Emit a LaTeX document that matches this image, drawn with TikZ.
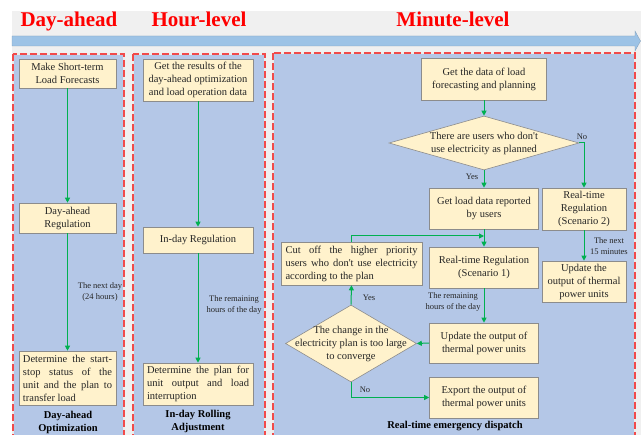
\documentclass[tikz,border=0pt]{standalone}
\usepackage{fontspec}
\setmainfont{Liberation Serif}
\usetikzlibrary{shapes.geometric,arrows.meta}

\definecolor{pagegray}{HTML}{F0F0F0}
\definecolor{barblue}{HTML}{9DC3E6}
\definecolor{panelblue}{HTML}{B4C7E7}
\definecolor{boxyellow}{HTML}{FFF2CC}
\definecolor{boxline}{HTML}{8C8C8C}
\definecolor{flowgreen}{HTML}{00B050}
\definecolor{dashred}{HTML}{F24A4A}
\definecolor{inkgray}{HTML}{262626}

% one fully justified line of a paragraph
\newcommand{\jrow}[2]{\makebox[#1][s]{#2}}
% straight apostrophe
\newcommand{\apos}{\textquotesingle}

\tikzset{
  boxtext/.style={font=\fontsize{10.5}{13}\selectfont, text=inkgray},
  stepbox/.style={boxtext, draw=boxline, line width=0.6pt, fill=boxyellow,
    inner sep=0pt, align=center},
  decision/.style={boxtext, shape=diamond, draw=boxline, line width=0.6pt,
    fill=boxyellow, inner sep=-15pt, align=center},
  flow/.style={draw=flowgreen, line width=1pt,
    -{Triangle[length=5pt,width=5pt]}},
  note/.style={font=\fontsize{8.5}{11}\selectfont, text=inkgray, inner sep=0pt,
    align=center},
  caption/.style={font=\fontsize{10.5}{13}\selectfont\bfseries, text=black,
    inner sep=0pt, align=center},
  stage/.style={font=\fontsize{21}{24}\selectfont\bfseries, text=red,
    inner sep=0pt, anchor=base},
  panel/.style={fill=panelblue, draw=white!85!gray, line width=1.2pt},
  panelrim/.style={draw=dashred, line width=1.2pt, dash pattern=on 7pt off 3pt}
}

\begin{document}
\begin{tikzpicture}[x=1pt,y=-1pt]
\useasboundingbox (0,0) rectangle (641,435);
\clip (0,0) rectangle (641,435);

% page background and time axis
\fill[pagegray] (12,11) rectangle (641,435);
\filldraw[fill=barblue, draw=barblue!80!black, line width=0.3pt]
  (12,36) -- (635,36) -- (635,31) -- (640.5,41) -- (635,51) -- (635,46)
  -- (12,46) -- cycle;

\node[stage] (tday) at (69,27) {Day-ahead};
\node[stage] (thour) at (199,27) {Hour-level};
\node[stage] (tmin) at (453,27) {Minute-level};

% dashed stage panels
\foreach \xa/\xb/\ya in {13/124/54, 133/265/54, 273/635/53}{
  \path[panel] (\xa,\ya) rectangle (\xb,445);
  \path[panelrim] (\xa,\ya) rectangle (\xb,445);
}

% ---- day-ahead optimization ----
\node[stepbox, minimum width=97pt, minimum height=29pt] (a1) at (67.5,73.5)
  {Make Short-term\\Load Forecasts};
\node[stepbox, minimum width=97pt, minimum height=30pt] (a2) at (67.5,218)
  {Day-ahead\\Regulation};
\node[stepbox, minimum width=97pt, minimum height=54pt, align=left] (a3) at (67.5,378)
  {\jrow{89pt}{Determine the start-}\\\jrow{89pt}{stop status of the}\\
   \jrow{89pt}{unit and the plan to}\\transfer load};
\node[note] (na) at (100,292) {The next day\\(24 hours)};
\node[caption] (ca) at (68,422) {Day-ahead\\Optimization};

\draw[flow] (a1.south) -- (a2.north);
\draw[flow] (a2.south) -- (a3.north);

% ---- in-day rolling adjustment ----
\node[stepbox, minimum width=110pt, minimum height=42pt] (b1) at (198,80)
  {Get the results of the\\day-ahead optimization\\and load operation data};
\node[stepbox, minimum width=110pt, minimum height=26pt] (b2) at (198,240)
  {In-day Regulation};
\node[stepbox, minimum width=110pt, minimum height=42pt, align=left] (b3) at (198,384)
  {\jrow{102pt}{Determine the plan for}\\\jrow{102pt}{unit output and load}\\
   interruption};
\node[note] (nb) at (234,305) {The remaining\\hours of the day};
\node[caption] (cb) at (198,421) {In-day Rolling\\Adjustment};

\draw[flow] (b1.south) -- (b2.north);
\draw[flow] (b2.south) -- (b3.north);

% ---- real-time emergency dispatch ----
\node[stepbox, minimum width=125pt, minimum height=42pt] (c1) at (484,79)
  {Get the data of load\\forecasting and planning};
\node[decision, minimum width=190pt, minimum height=54pt, aspect=3.5] (d1) at (484,143)
  {There are users who don\apos t\\use electricity as planned};
\node[stepbox, minimum width=109pt, minimum height=41pt] (c2) at (484,208.5)
  {Get load data reported\\by users};
\node[stepbox, minimum width=84pt, minimum height=42pt] (c3) at (584,209)
  {Real-time\\Regulation\\(Scenario 2)};
\node[stepbox, minimum width=109pt, minimum height=41pt] (c4) at (484,267.5)
  {Real-time Regulation\\(Scenario 1)};
\node[stepbox, minimum width=141pt, minimum height=43pt, align=left] (c5) at (351.5,263.5)
  {\jrow{132pt}{Cut off the higher priority}\\\jrow{132pt}{users who don\apos t use electricity}\\
   according to the plan};
\node[stepbox, minimum width=84pt, minimum height=41pt] (c6) at (584,281.5)
  {Update the\\output of thermal\\power units};
\node[decision, minimum width=131pt, minimum height=77pt, aspect=1.7] (d2) at (351,343.5)
  {The change in the\\electricity plan is too large\\to converge};
\node[stepbox, minimum width=109pt, minimum height=40pt] (c7) at (484,343)
  {Update the output of\\thermal power units};
\node[stepbox, minimum width=109pt, minimum height=41pt] (c8) at (484,397.5)
  {Export the output of\\thermal power units};

\coordinate (join) at (484,236);

\node[note] (yes1) at (472,177) {Yes};
\node[note] (no1) at (582,137) {No};
\node[note] (yes2) at (369,298) {Yes};
\node[note] (no2) at (365,390) {No};
\node[note] (nc1) at (453,302) {The remaining\\hours of the day};
\node[note] (nc2) at (609,246) {The next\\15 minutes};
\node[caption] (cc) at (455,426.5) {Real-time emergency dispatch};

\draw[flow] (c1.south) -- (d1.north);
\draw[flow] (d1.south) -- (c2.north);
\draw[flow] (d1.east) -| (c3.north);
\draw[flow] (c2.south) -- (c4.north);
\draw[flow] (c5.north) |- (join);
\draw[flow] (c3.south) -- (c6.north);
\draw[flow] (c4.south) -- (c7.north);
\draw[flow] (c7.west) -- (d2.east);
\draw[flow] (d2.north) -- (c5.south);
\draw[flow] (d2.south) |- (c8.west);
\end{tikzpicture}
\end{document}
